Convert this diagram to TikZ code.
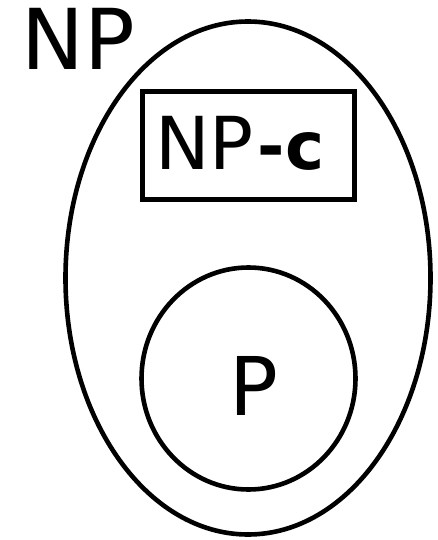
\documentclass[tikz,border=0pt]{standalone}
\usepackage{fontspec}
\setmainfont{DejaVu Sans}
\usetikzlibrary{positioning,shapes.geometric}

\begin{document}
\begin{tikzpicture}[x=1pt,y=-1pt,line width=4.6pt]
  \useasboundingbox (0,0) rectangle (438,540);
  \node[
    draw,
    ellipse,
    inner sep=0pt,
    minimum width=365pt,
    minimum height=513pt
  ] (np) at (248,278) {};
  \node[anchor=base west,inner sep=0pt,font=\fontsize{84}{90}\selectfont] (nplabel) at (19,70) {NP};
  \node[
    draw,
    inner sep=0pt,
    minimum width=212pt,
    minimum height=108pt
  ] (npc) at (248.5,145.5) {};
  \node[anchor=base west,inner sep=0pt,font=\fontsize{73}{80}\selectfont] (npctext) at (153,170) {NP\kern4pt\textbf{\fontsize{66}{70}\selectfont -c}};
  \node[draw,ellipse,inner sep=0pt,minimum width=214pt,minimum height=222pt] (p) at (248.5,378.5) {};
  \node[anchor=base,inner sep=0pt,font=\fontsize{81}{90}\selectfont] (ptext) at (254,415) {P};
\end{tikzpicture}
\end{document}
